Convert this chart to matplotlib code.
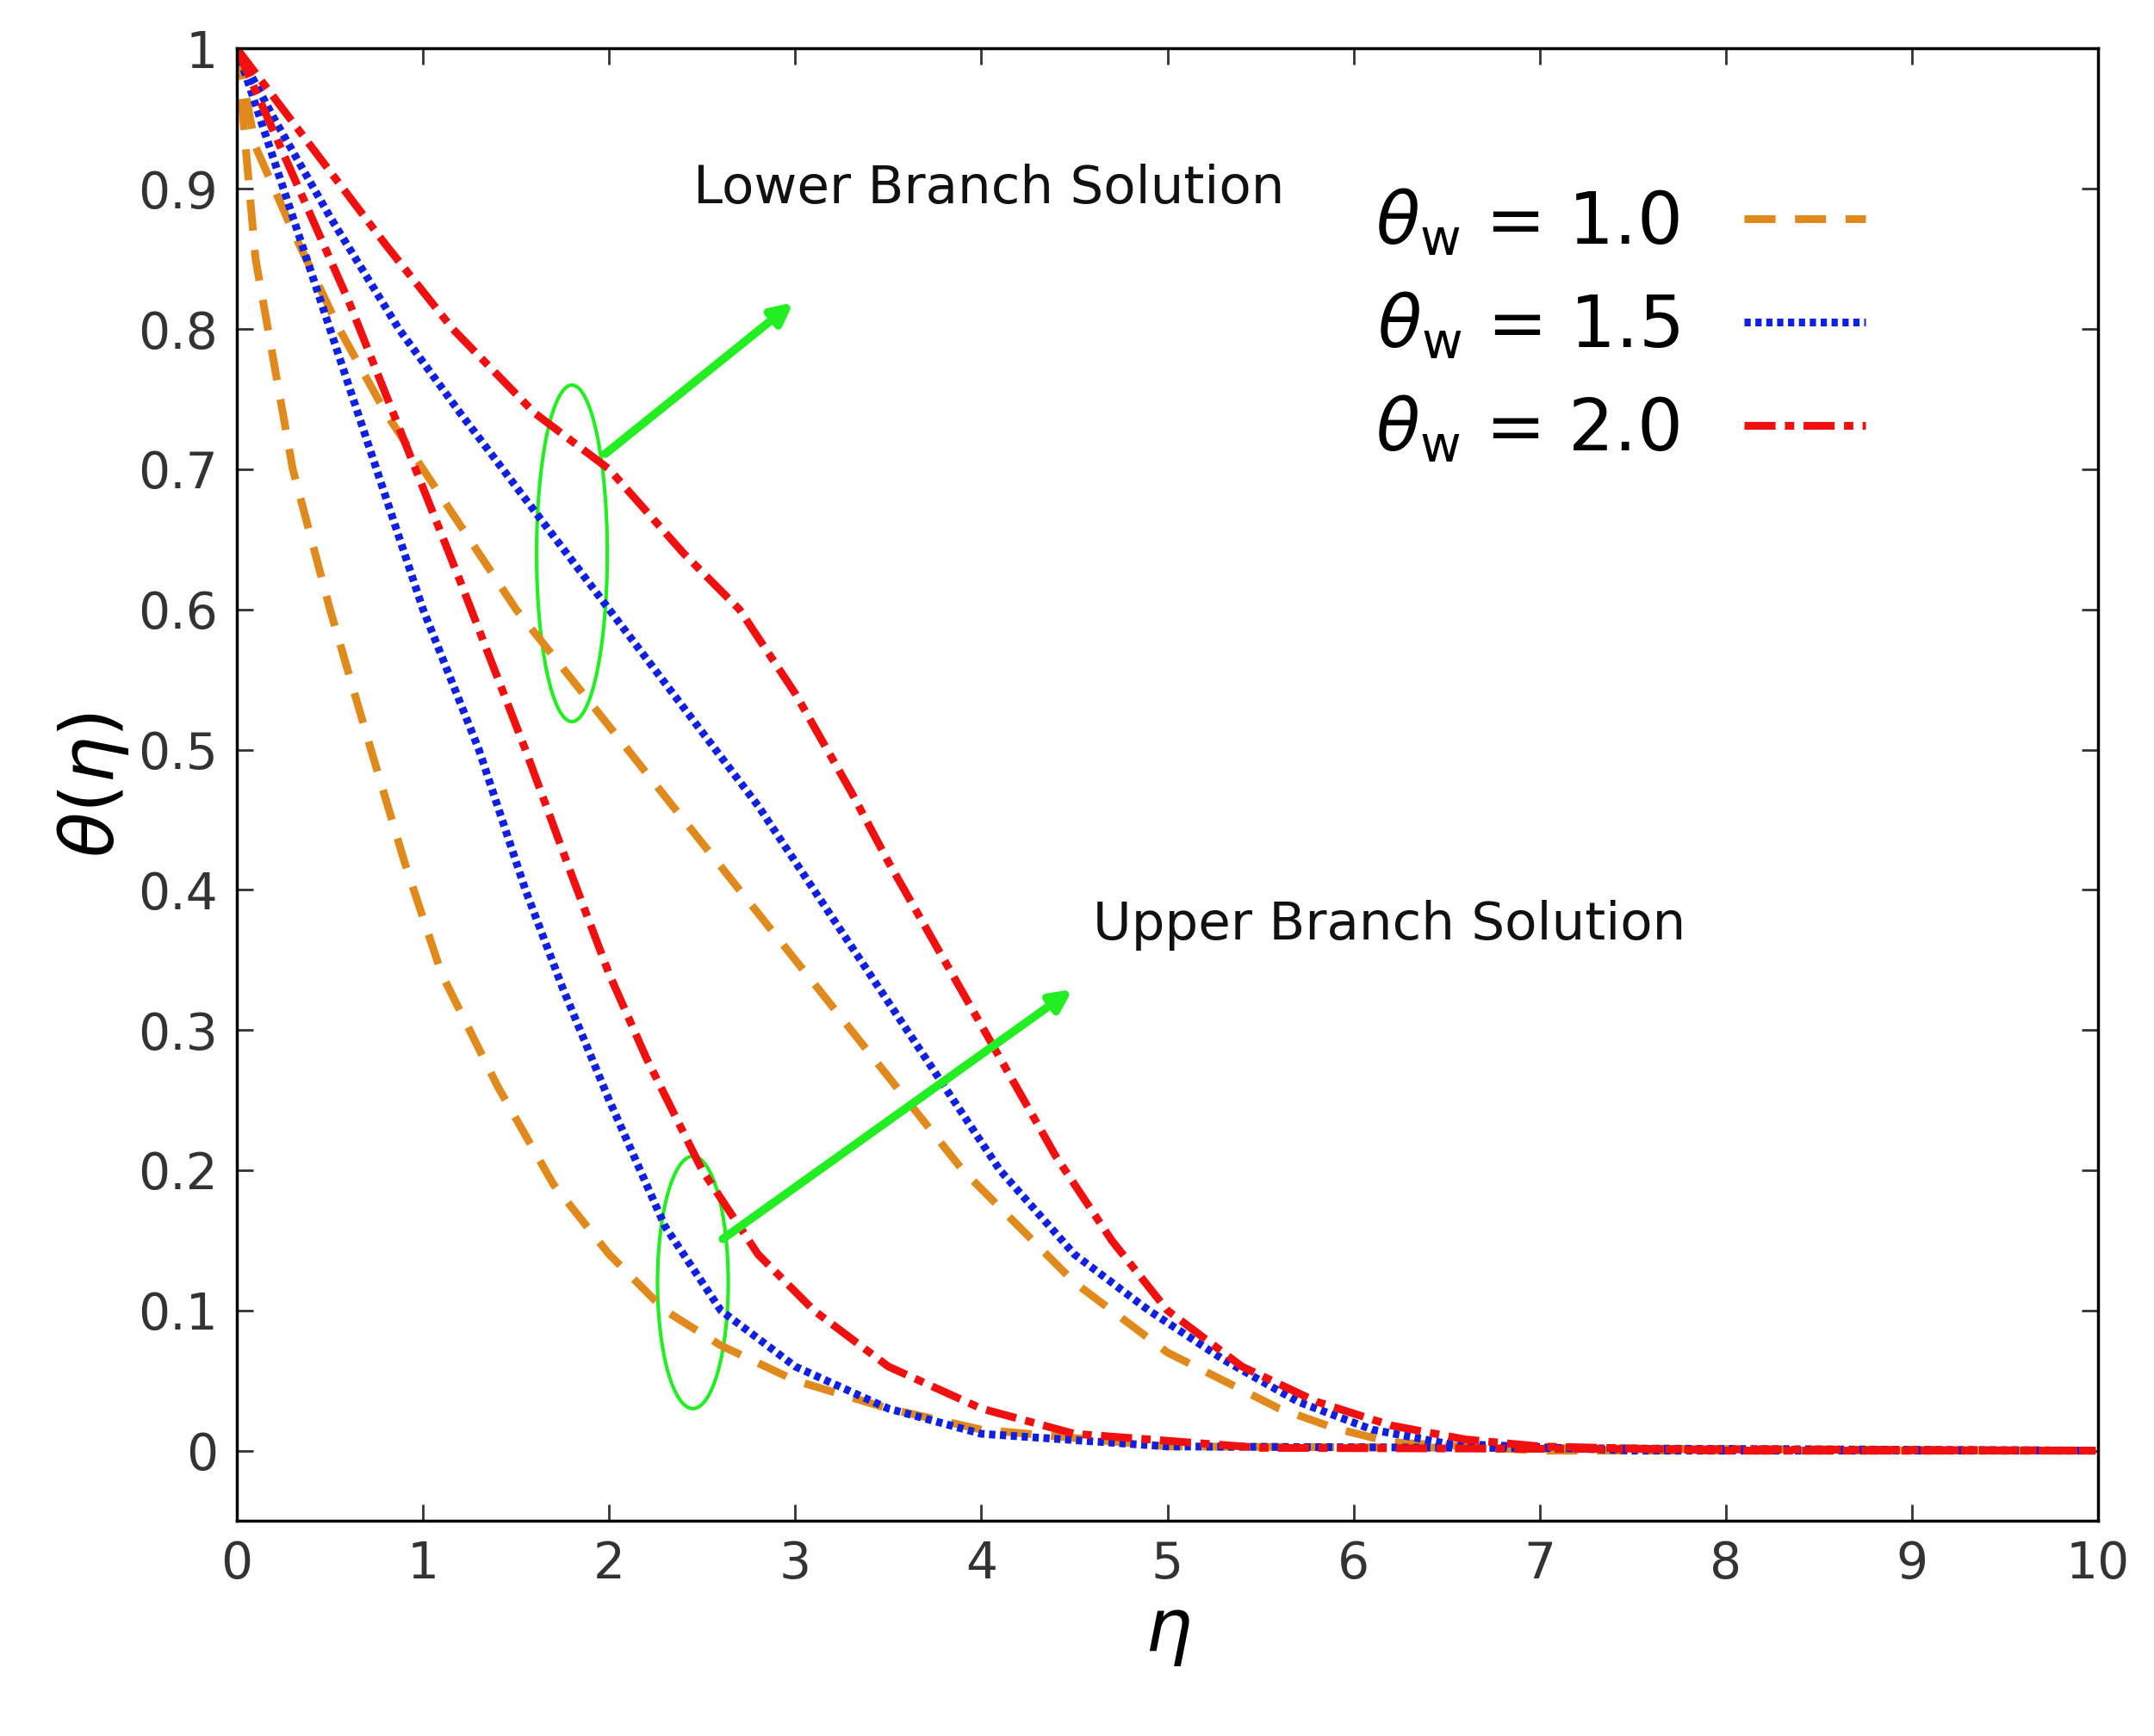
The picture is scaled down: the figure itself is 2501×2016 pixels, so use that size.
import matplotlib
matplotlib.use("Agg")
import matplotlib.pyplot as plt
from matplotlib.patches import Ellipse

eta_l_or = [0, 0.1, 0.3, 0.55, 0.8, 1.1, 1.5, 1.8, 2.1, 2.4, 2.7, 3.0, 3.3, 3.6, 3.9, 4.2, 4.5, 4.7, 5.0, 5.3, 5.6, 5.9, 6.2, 7, 10]
th_l_or = [1, 0.93, 0.87, 0.8, 0.74, 0.68, 0.6, 0.55, 0.5, 0.45, 0.4, 0.35, 0.3, 0.25, 0.2, 0.16, 0.12, 0.1, 0.07, 0.05, 0.03, 0.016, 0.006, 0, 0]
eta_l_bl = [0, 0.2, 0.5, 0.87, 1.2, 1.6, 2.0, 2.4, 2.8, 3.1, 3.4, 3.7, 4.1, 4.5, 4.9, 5.3, 5.7, 6.1, 6.5, 7.5, 10]
th_l_bl = [1, 0.95, 0.88, 0.8, 0.74, 0.67, 0.6, 0.53, 0.46, 0.4, 0.34, 0.28, 0.2, 0.14, 0.1, 0.065, 0.035, 0.015, 0.005, 0, 0]
eta_l_rd = [0, 0.4, 0.8, 1.16, 1.6, 2.0, 2.4, 2.7, 3.0, 3.3, 3.5, 3.8, 4.1, 4.4, 4.7, 5.0, 5.4, 5.8, 6.2, 6.6, 7.0, 8, 10]
th_l_rd = [1, 0.93, 0.86, 0.8, 0.74, 0.7, 0.64, 0.6, 0.54, 0.47, 0.42, 0.35, 0.28, 0.21, 0.15, 0.1, 0.06, 0.035, 0.018, 0.008, 0.003, 0, 0]
eta_u_or = [0, 0.1, 0.3, 0.5, 0.72, 0.9, 1.1, 1.4, 1.7, 2.0, 2.3, 2.6, 3.0, 3.5, 4.0, 5.0, 10]
th_u_or = [1, 0.85, 0.7, 0.6, 0.5, 0.42, 0.34, 0.26, 0.19, 0.14, 0.1, 0.075, 0.05, 0.03, 0.015, 0.003, 0]
eta_u_bl = [0, 0.2, 0.4, 0.7, 1.0, 1.3, 1.55, 1.75, 2.0, 2.3, 2.6, 3.0, 3.5, 4.0, 5.0, 10]
th_u_bl = [1, 0.92, 0.84, 0.72, 0.6, 0.5, 0.4, 0.33, 0.25, 0.16, 0.1, 0.06, 0.03, 0.012, 0.003, 0]
eta_u_rd = [0, 0.3, 0.6, 0.9, 1.2, 1.55, 1.8, 2.0, 2.2, 2.5, 2.8, 3.1, 3.5, 4.0, 4.5, 5.5, 10]
th_u_rd = [1, 0.91, 0.82, 0.72, 0.62, 0.5, 0.41, 0.34, 0.28, 0.2, 0.14, 0.1, 0.06, 0.03, 0.012, 0.002, 0]

labels = [r"$\theta_{\rm w}$ = 1.0", r"$\theta_{\rm w}$ = 1.5", r"$\theta_{\rm w}$ = 2.0"]
colors = ["#e08a1e", "#1020e0", "#f01010"]
styles = [(0, (4, 2.5)), (0, (0.8, 0.6)), (0, (4, 1.2, 1.2, 1.2))]

fig = plt.figure(figsize=(25.01, 20.16), dpi=100)
ax = fig.add_axes([0.110, 0.124, 0.864, 0.848])
lw = 6.5
h = []
for (xl, yl, xu, yu), c, s, lab in zip(
        [(eta_l_or, th_l_or, eta_u_or, th_u_or),
         (eta_l_bl, th_l_bl, eta_u_bl, th_u_bl),
         (eta_l_rd, th_l_rd, eta_u_rd, th_u_rd)], colors, styles, labels):
    l, = ax.plot(xl, yl, color=c, ls=s, lw=lw, label=lab)
    ax.plot(xu, yu, color=c, ls=s, lw=lw)
    h.append(l)

ax.set_xlim(0, 10)
ax.set_ylim(-0.05, 1.0)
ax.set_xticks(range(11))
ax.set_yticks([i / 10 for i in range(11)])
ax.set_yticklabels(["0"] + [f"{i/10:.1f}" for i in range(1, 10)] + ["1"])
ax.tick_params(labelsize=42, colors="#333333", length=14, width=2, direction="in", top=True, right=True, pad=16)
for sp in ax.spines.values():
    sp.set_linewidth(2.5)
ax.set_xlabel(r"$\eta$", fontsize=62, labelpad=6)
ax.set_ylabel(r"$\theta(\eta)$", fontsize=62, labelpad=6)

green = "#22ee22"
ax.add_patch(Ellipse((1.8, 0.64), 0.38, 0.24, fill=False, ec=green, lw=3))
ax.add_patch(Ellipse((2.45, 0.12), 0.38, 0.18, fill=False, ec=green, lw=3))
ax.annotate("", xy=(3.0, 0.82), xytext=(1.97, 0.71),
            arrowprops=dict(arrowstyle="-|>,head_length=1.4,head_width=0.7", color=green, lw=7))
ax.annotate("", xy=(4.5, 0.33), xytext=(2.6, 0.15),
            arrowprops=dict(arrowstyle="-|>,head_length=1.4,head_width=0.7", color=green, lw=7))
ax.text(2.45, 0.9, "Lower Branch Solution", fontsize=44, va="center", color="#111111")
ax.text(4.6, 0.375, "Upper Branch Solution", fontsize=44, va="center", color="#111111")

ax.legend(handles=h, loc="upper right", bbox_to_anchor=(0.91, 0.95), frameon=False,
          fontsize=60, handlelength=1.7, labelspacing=0.45, markerfirst=False, handletextpad=0.9)
fig.savefig("out.png", dpi=100, facecolor="white")
